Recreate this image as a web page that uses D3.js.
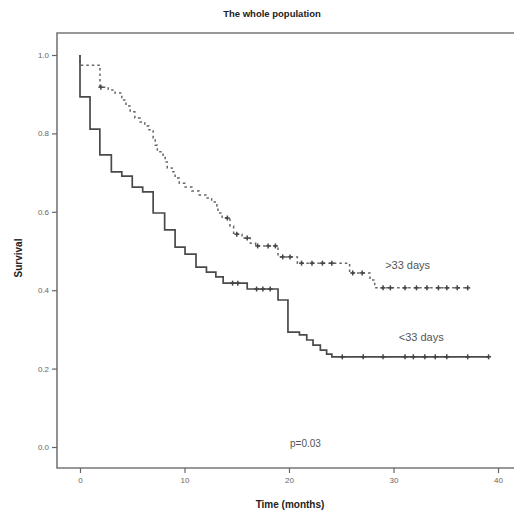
<!DOCTYPE html>
<html>
<head>
<meta charset="utf-8">
<script src="https://cdn.jsdelivr.net/npm/d3@7"></script>
<style>
  body { margin:0; background:#fff; }
  #canvas { width:514px; height:518px; }
  text { font-family: "Liberation Sans", Arial, sans-serif; }
</style>
</head>
<body>
<div id="canvas" class="canvas"></div>
<script>
// <33 days group (solid line): step times (months) and survival after each step
var shortTimes = [0, 0.96, 1.9, 3.0, 4.0, 5.0, 6.0, 7.0, 8.1, 9.1, 10.05, 11.1, 12.1, 13.0, 13.7, 16.0, 18.95, 19.9, 21.0, 21.7, 22.3, 23.0, 23.6, 24.1];
var shortSurv  = [0.893, 0.811, 0.745, 0.702, 0.691, 0.663, 0.651, 0.597, 0.554, 0.51, 0.492, 0.459, 0.446, 0.434, 0.418, 0.403, 0.375, 0.293, 0.286, 0.273, 0.26, 0.247, 0.237, 0.23];
var shortCensored = [14.6, 15.1, 16.9, 17.5, 18.2, 25.1, 27.1, 29.0, 31.1, 31.9, 33.0, 34.0, 35.1, 37.1, 39.1];

// >33 days group (dashed line)
var longTimes = [0, 1.91, 2.7, 3.35, 4.0, 4.4, 4.8, 5.25, 5.75, 6.2, 6.6, 7.0, 7.2, 7.4, 7.95, 8.15, 8.35, 8.8, 9.1, 9.5, 10.05, 10.7, 11.4, 12.05, 12.6, 13.1, 13.2, 13.6, 14.35, 14.7, 15.5, 16.3, 16.8, 18.95, 20.8, 25.8, 27.75, 28.2];
var longSurv  = [0.974, 0.918, 0.911, 0.903, 0.885, 0.87, 0.855, 0.839, 0.829, 0.819, 0.809, 0.788, 0.77, 0.753, 0.742, 0.727, 0.712, 0.702, 0.686, 0.673, 0.663, 0.653, 0.643, 0.635, 0.625, 0.615, 0.597, 0.584, 0.564, 0.543, 0.533, 0.52, 0.513, 0.485, 0.469, 0.444, 0.426, 0.406];
var longCensored = [2.0, 14.1, 15.0, 16.0, 17.0, 18.0, 18.7, 19.4, 20.1, 21.2, 22.2, 23.2, 24.1, 26.1, 27.0, 29.0, 29.7, 31.1, 32.2, 33.2, 34.3, 35.1, 36.1, 37.1];

var xTicks = [0, 10, 20, 30, 40];
var yTicks = [0, 0.2, 0.4, 0.6, 0.8, 1.0];
var groupLabels = ['>33 days', '<33 days'];

var W = 514, H = 518;
var frame = {l:57, t:33, r:514, b:468};

var svg = d3.select('#canvas').append('svg')
    .attr('width', W).attr('height', H);

var scaleX = d3.scaleLinear().domain([0, 40]).range([80, 498]);
var scaleY = d3.scaleLinear().domain([0, 1]).range([447, 55]);

// frame
svg.append('path')
    .attr('d', 'M' + frame.r + ',' + frame.t + 'H' + frame.l + 'V' + frame.b + 'H' + frame.r)
    .attr('fill', 'none').attr('stroke', '#777').attr('stroke-width', 1.6);

// axes
var axisX = d3.axisBottom(scaleX).tickValues(xTicks).tickSize(5).tickFormat(d3.format('d'));
var axisY = d3.axisLeft(scaleY).tickValues(yTicks).tickSize(5).tickFormat(d3.format('.1f'));

var gx = svg.append('g').attr('transform', 'translate(0,' + frame.b + ')').call(axisX);
var gy = svg.append('g').attr('transform', 'translate(' + frame.l + ',0)').call(axisY);
gx.select('.domain').remove();
gy.select('.domain').remove();
svg.selectAll('.tick line').attr('stroke', '#666').attr('stroke-width', 1.2);
svg.selectAll('.tick text').attr('fill', '#666').style('font-size', '8px');
gx.selectAll('.tick text').attr('dy', '0.9em');

function build(times, surv){
    var pts = [[0, 1]];
    times.forEach(function(t, i){ pts.push([t, surv[i]]); });
    return pts;
}
function survAt(times, surv, t){
    var s = 1;
    for (var i = 0; i < times.length; i++){ if (times[i] <= t) s = surv[i]; }
    return s;
}

var line = d3.line()
    .x(function(d){ return scaleX(d[0]); })
    .y(function(d){ return scaleY(d[1]); })
    .curve(d3.curveStepAfter);

var groups = [
    {times:longTimes, surv:longSurv, cens:longCensored, dash:'2.5,3', width:1.5, color:'#666'},
    {times:shortTimes, surv:shortSurv, cens:shortCensored, dash:null, width:1.7, color:'#4a4a4a'}
];

groups.forEach(function(g){
    var pts = build(g.times, g.surv);
    var last = d3.max(g.cens);
    pts.push([last, g.surv[g.surv.length - 1]]);
    svg.append('path').datum(pts)
        .attr('d', line)
        .attr('fill', 'none')
        .attr('stroke', g.color)
        .attr('stroke-width', g.width)
        .attr('stroke-dasharray', g.dash);

    svg.selectAll(null).data(g.cens).enter().append('line')
        .attr('x1', function(d){ return scaleX(d); })
        .attr('x2', function(d){ return scaleX(d); })
        .attr('y1', function(d){ return scaleY(survAt(g.times, g.surv, d)) - 2.5; })
        .attr('y2', function(d){ return scaleY(survAt(g.times, g.surv, d)) + 2.5; })
        .attr('stroke', '#444').attr('stroke-width', 1.5);
    svg.selectAll(null).data(g.cens).enter().append('line')
        .attr('x1', function(d){ return scaleX(d) - 2.5; })
        .attr('x2', function(d){ return scaleX(d) + 2.5; })
        .attr('y1', function(d){ return scaleY(survAt(g.times, g.surv, d)); })
        .attr('y2', function(d){ return scaleY(survAt(g.times, g.surv, d)); })
        .attr('stroke', '#444').attr('stroke-width', 1.5);
});

// group labels and p value
svg.append('text').attr('x', scaleX(29.2)).attr('y', scaleY(0.455))
    .attr('fill', '#555').style('font-size', '11px').text(groupLabels[0]);
svg.append('text').attr('x', scaleX(30.5)).attr('y', scaleY(0.27))
    .attr('fill', '#555').style('font-size', '11px').text(groupLabels[1]);
svg.append('text').attr('x', scaleX(20.1)).attr('y', scaleY(0.0))
    .attr('fill', '#555').style('font-size', '10px').text('p=0.03');

// titles
svg.append('text').attr('x', 272).attr('y', 17).attr('text-anchor', 'middle')
    .style('font-size', '9.5px').style('font-weight', 'bold').attr('fill', '#222')
    .text('The whole population');
svg.append('text').attr('x', 290).attr('y', 508).attr('text-anchor', 'middle')
    .style('font-size', '10px').style('font-weight', 'bold').attr('fill', '#222')
    .text('Time (months)');
svg.append('text').attr('transform', 'translate(22,258) rotate(-90)').attr('text-anchor', 'middle')
    .style('font-size', '10px').style('font-weight', 'bold').attr('fill', '#222')
    .text('Survival');
</script>
</body>
</html>
